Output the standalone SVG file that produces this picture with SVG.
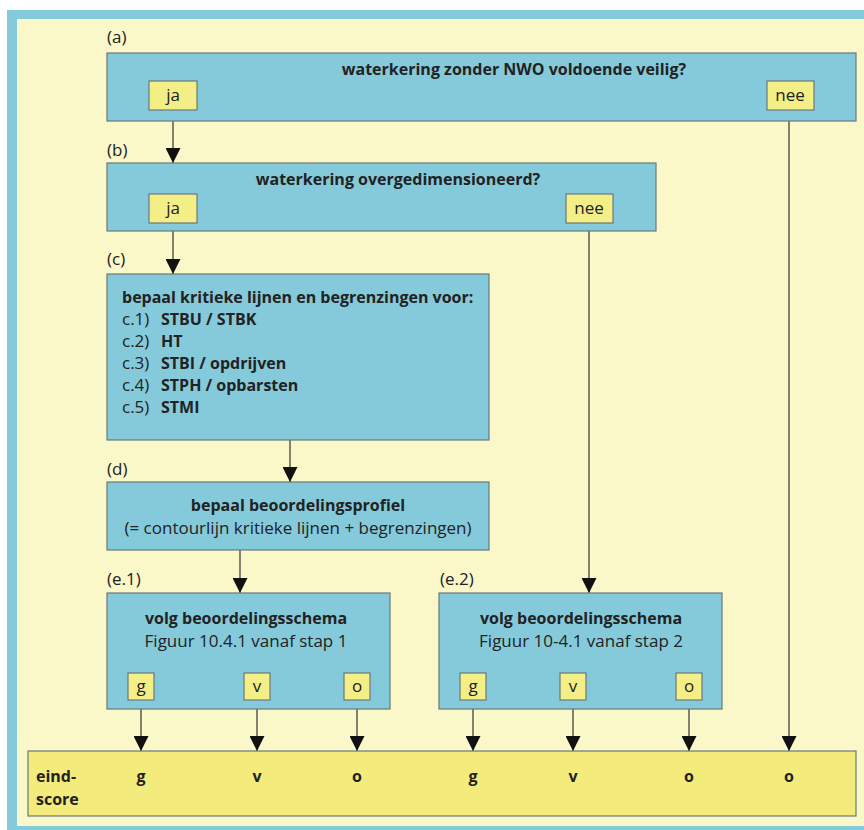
<svg xmlns="http://www.w3.org/2000/svg" width="864" height="830" viewBox="0 0 864 830">
<defs>
<style>
.box{fill:#85cadb;stroke:#6b7878;stroke-width:1.2}
.yb{fill:#f4ee86;stroke:#6b7878;stroke-width:1.2}
.score{fill:#f3ec7c;stroke:#6b7878;stroke-width:1.2}
.t{font-family:"Open Sans","Noto Sans",sans-serif;font-size:17px;fill:#222}
.b{font-weight:bold;font-size:16px}
.c{text-anchor:middle}
.ln{stroke:#333;stroke-width:1.2;fill:none}
</style>
<marker id="ah" viewBox="0 0 10 10" refX="10" refY="5" markerWidth="15" markerHeight="15" markerUnits="userSpaceOnUse" orient="auto">
<path d="M0,0 L10,5 L0,10 Z" fill="#111"/>
</marker>
</defs>
<rect x="0" y="0" width="864" height="830" fill="#ffffff"/>
<rect x="7" y="10" width="870" height="830" fill="#85cadb"/>
<rect x="17" y="19" width="860" height="807" fill="#faf7c9"/>

<g id="connectors">
<line class="ln" x1="173" y1="121" x2="173" y2="163" marker-end="url(#ah)"/>
<line class="ln" x1="789" y1="110" x2="789" y2="751" marker-end="url(#ah)"/>
<line class="ln" x1="173" y1="231" x2="173" y2="274" marker-end="url(#ah)"/>
<line class="ln" x1="589" y1="223" x2="589" y2="593" marker-end="url(#ah)"/>
<line class="ln" x1="290" y1="440" x2="290" y2="482" marker-end="url(#ah)"/>
<line class="ln" x1="240" y1="550" x2="240" y2="593" marker-end="url(#ah)"/>
<line class="ln" x1="141" y1="700" x2="141" y2="751" marker-end="url(#ah)"/>
<line class="ln" x1="257" y1="700" x2="257" y2="751" marker-end="url(#ah)"/>
<line class="ln" x1="357" y1="700" x2="357" y2="751" marker-end="url(#ah)"/>
<line class="ln" x1="473" y1="700" x2="473" y2="751" marker-end="url(#ah)"/>
<line class="ln" x1="573" y1="700" x2="573" y2="751" marker-end="url(#ah)"/>
<line class="ln" x1="689" y1="700" x2="689" y2="751" marker-end="url(#ah)"/>
</g>

<g id="node-a">
<text class="t" x="107" y="43">(a)</text>
<rect class="box" x="107" y="53" width="749" height="68"/>
<text class="t b c" x="514" y="75">waterkering zonder NWO voldoende veilig?</text>
<rect class="yb" x="149" y="81" width="48" height="29"/>
<text class="t c" x="173" y="101">ja</text>
<rect class="yb" x="767" y="81" width="47" height="29"/>
<text class="t c" x="790" y="101">nee</text>
</g>

<g id="node-b">
<text class="t" x="107" y="156">(b)</text>
<rect class="box" x="107" y="163" width="549" height="68"/>
<text class="t b c" x="398" y="185">waterkering overgedimensioneerd?</text>
<rect class="yb" x="149" y="194" width="48" height="29"/>
<text class="t c" x="173" y="214">ja</text>
<rect class="yb" x="566" y="194" width="47" height="29"/>
<text class="t c" x="589" y="214">nee</text>
</g>

<g id="node-c">
<text class="t" x="107" y="265">(c)</text>
<rect class="box" x="107" y="274" width="382" height="166"/>
<text class="t b" x="122" y="303">bepaal kritieke lijnen en begrenzingen voor:</text>
<text class="t" x="122" y="325">c.1)</text><text class="t b" x="161" y="325">STBU / STBK</text>
<text class="t" x="122" y="347">c.2)</text><text class="t b" x="161" y="347">HT</text>
<text class="t" x="122" y="369">c.3)</text><text class="t b" x="161" y="369">STBI / opdrijven</text>
<text class="t" x="122" y="391">c.4)</text><text class="t b" x="161" y="391">STPH / opbarsten</text>
<text class="t" x="122" y="413">c.5)</text><text class="t b" x="161" y="413">STMI</text>
</g>

<g id="node-d">
<text class="t" x="107" y="475">(d)</text>
<rect class="box" x="107" y="482" width="382" height="68"/>
<text class="t b c" x="298" y="511">bepaal beoordelingsprofiel</text>
<text class="t c" x="298" y="534">(= contourlijn kritieke lijnen + begrenzingen)</text>
</g>

<g id="node-e1">
<text class="t" x="107" y="585">(e.1)</text>
<rect class="box" x="107" y="593" width="283" height="116"/>
<text class="t b c" x="246" y="624">volg beoordelingsschema</text>
<text class="t c" x="246" y="647">Figuur 10.4.1 vanaf stap 1</text>
<rect class="yb" x="128" y="673" width="26" height="27"/>
<text class="t c" x="141" y="692">g</text>
<rect class="yb" x="244" y="673" width="26" height="27"/>
<text class="t c" x="257" y="692">v</text>
<rect class="yb" x="344" y="673" width="26" height="27"/>
<text class="t c" x="357" y="692">o</text>
</g>

<g id="node-e2">
<text class="t" x="440" y="585">(e.2)</text>
<rect class="box" x="439" y="593" width="283" height="116"/>
<text class="t b c" x="581" y="624">volg beoordelingsschema</text>
<text class="t c" x="581" y="647">Figuur 10-4.1 vanaf stap 2</text>
<rect class="yb" x="460" y="673" width="26" height="27"/>
<text class="t c" x="473" y="692">g</text>
<rect class="yb" x="560" y="673" width="26" height="27"/>
<text class="t c" x="573" y="692">v</text>
<rect class="yb" x="676" y="673" width="26" height="27"/>
<text class="t c" x="689" y="692">o</text>
</g>

<g id="node-score">
<rect class="score" x="28" y="751" width="828" height="65"/>
<text class="t b" x="36" y="782">eind-</text>
<text class="t b" x="36" y="805">score</text>
<text class="t b c" x="141" y="782">g</text>
<text class="t b c" x="257" y="782">v</text>
<text class="t b c" x="357" y="782">o</text>
<text class="t b c" x="473" y="782">g</text>
<text class="t b c" x="573" y="782">v</text>
<text class="t b c" x="689" y="782">o</text>
<text class="t b c" x="789" y="782">o</text>
</g>
</svg>
